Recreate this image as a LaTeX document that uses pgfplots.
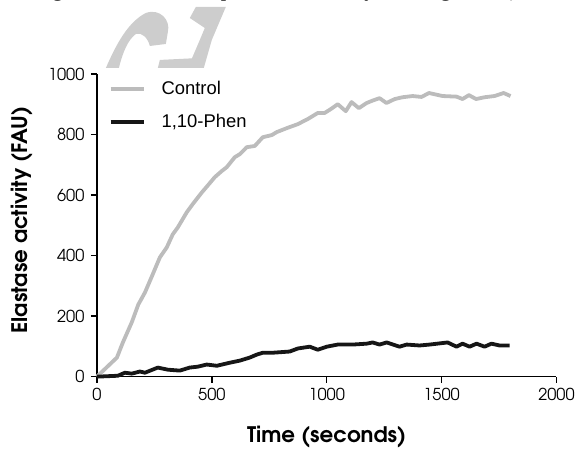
\documentclass[border=0pt]{standalone}
\usepackage{fontspec}
\setmainfont{TeX Gyre Adventor}
\newfontfamily\arialf{Liberation Sans}
\newfontfamily\timesf{Liberation Serif}
\usepackage{pgfplots}
\usepackage{pgfplotstable}
\pgfplotsset{compat=1.18}
\definecolor{ctrl}{RGB}{188,188,188}
\definecolor{phen}{RGB}{22,22,22}
\definecolor{wm}{RGB}{205,205,205}

\pgfplotstableread{
t y
0 0
87 63
113 113
152 180
180 238
209 278
239 331
274 394
304 427
330 470
352 493
391 543
417 570
457 609
483 632
513 659
543 679
565 692
600 725
622 735
652 758
687 762
722 791
761 798
783 808
830 822
874 834
920 852
961 871
991 871
1020 885
1048 900
1083 877
1108 907
1140 887
1174 904
1200 912
1230 920
1260 904
1296 917
1330 923
1374 927
1413 924
1445 937
1504 927
1565 925
1591 917
1619 930
1650 917
1687 923
1730 927
1770 937
1800 927
}\control

\pgfplotstableread{
t y
0 0
91 3
122 13
152 10
187 17
209 13
265 30
309 23
361 20
404 30
439 33
478 40
522 36
578 46
622 53
665 63
696 73
722 79
765 79
839 83
874 93
926 99
961 89
1000 99
1048 106
1113 106
1174 109
1200 113
1230 106
1261 113
1317 99
1348 106
1404 103
1448 106
1526 113
1565 99
1591 109
1622 99
1652 109
1687 99
1717 109
1752 103
1796 103
}\phen

\begin{document}
\begin{tikzpicture}
\begin{scope}[shift={(-97bp,377bp)},x=1bp,y=-1bp]
\path[use as bounding box] (0,0) rectangle (578,446);
% watermark (approximate)
\fill[wm,even odd rule] (106,68) .. controls (116,45) and (128,22) .. (146,13) .. controls (160,8) and (171,20) .. (168,32) -- (166,44) -- (150,46) .. controls (148,38) and (142,32) .. (136,34) .. controls (128,40) and (123,52) .. (119,68) -- cycle;
\fill[wm] (196,7) -- (226,7) -- (212,40) -- (204,68) -- (188,68) -- (200,40) -- (205,28) -- (190,18) -- cycle;
\fill[wm] (160,60) -- (200,58) -- (196,68) -- (158,68) -- cycle;
\node[anchor=base west,inner sep=0pt,font=\timesf\fontsize{22}{22}\selectfont] at (-2,-4) {onto agar medium and expressed as colony forming units (CFU/};
\end{scope}
\begin{axis}[
  at={(0,0)}, anchor=south west,
  scale only axis, width=460bp, height=303bp,
  xmin=0, xmax=2000, ymin=0, ymax=1000,
  axis x line*=bottom, axis y line*=left,
  axis line style={line width=1.6bp, black},
  xtick={0,500,1000,1500,2000},
  ytick={0,200,400,600,800,1000},
  tick align=outside, major tick length=6bp,
  tick style={line width=1.4bp, black},
  /pgf/number format/assume math mode=true,
  /pgf/number format/1000 sep={},
  ticklabel style={font=\fontsize{16.5}{16.5}\selectfont},
  xticklabel style={yshift=-2bp},
  yticklabel style={xshift=-3bp},
  xlabel={\textbf{Time (seconds)}},
  ylabel={\textbf{Elastase activity (FAU)}},
  label style={font=\fontsize{21.5}{21.5}\selectfont},
  xlabel style={at={(axis description cs:0.5,-0.198)}, anchor=center},
  ylabel style={at={(axis description cs:-0.163,0.518)}, anchor=center},
  legend style={at={(axis description cs:0.025,0.982)}, anchor=north west,
     draw=none, fill=none, font=\arialf\fontsize{18.5}{18.5}\selectfont,
     row sep=14bp, column sep=14bp, inner sep=0pt},
  legend cell align=left,
  legend image code/.code={\draw[#1,line width=4bp] (0bp,0bp) -- (33bp,0bp);},
  clip=false,
]
\addplot[ctrl, line width=3.8bp, line join=round] table[x=t,y=y] {\control};
\addlegendentry{Control}
\addplot[phen, line width=3.8bp, line join=round] table[x=t,y=y] {\phen};
\addlegendentry{1,10-Phen}
\end{axis}
\end{tikzpicture}
\end{document}
